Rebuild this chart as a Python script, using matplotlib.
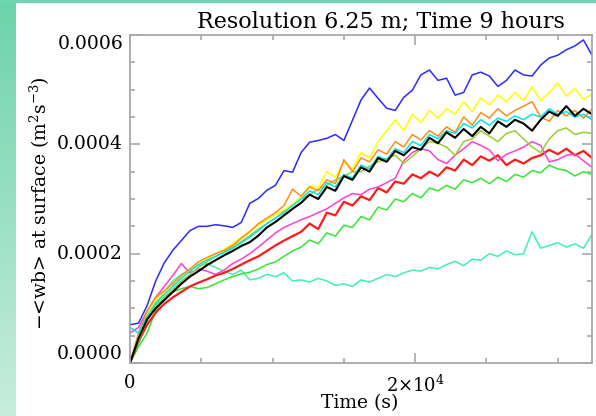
import numpy as np
import matplotlib
matplotlib.use("Agg")
import matplotlib.pyplot as plt
from matplotlib.ticker import MultipleLocator

plt.rcParams['font.family'] = ['DejaVu Serif']
plt.rcParams['mathtext.fontset'] = 'dejavuserif'

# time samples (s), every 600 s over 9 hours
time_s = np.arange(0, 32401, 600)
UNIT = 1e-4  # values below in units of 1e-4 m^2 s^-3

wb_blue = [0.70, 0.73, 1.05, 1.50, 1.83, 2.06, 2.24, 2.42, 2.50, 2.50, 2.53, 2.51, 2.48, 2.57,
           2.92, 3.01, 3.16, 3.25, 3.52, 3.49, 3.85, 4.04, 4.07, 4.11, 4.18, 4.07, 4.44, 4.81,
           5.03, 4.84, 4.66, 4.62, 4.86, 4.99, 5.27, 5.36, 5.17, 5.21, 4.90, 4.95, 5.27, 5.32,
           5.25, 5.06, 5.17, 5.36, 5.27, 5.25, 5.45, 5.58, 5.63, 5.73, 5.80, 5.91, 5.63]
wb_yellow = [0.0, 0.50, 0.90, 1.15, 1.30, 1.45, 1.60, 1.70, 1.80, 1.90, 2.00, 2.08, 2.18, 2.30,
             2.42, 2.52, 2.62, 2.72, 2.80, 2.90, 3.05, 3.25, 3.20, 3.50, 3.40, 3.68, 3.55, 3.85,
             3.75, 4.05, 4.25, 4.45, 4.25, 4.55, 4.40, 4.62, 4.48, 4.65, 4.55, 4.78, 4.60, 4.85,
             4.72, 4.90, 4.78, 4.95, 4.80, 5.05, 4.80, 4.95, 5.12, 4.88, 5.02, 4.82, 4.92]
wb_orange = [0.0, 0.55, 0.95, 1.20, 1.32, 1.45, 1.60, 1.72, 1.85, 1.93, 2.00, 2.06, 2.15, 2.28,
             2.40, 2.55, 2.65, 2.75, 2.88, 3.18, 3.05, 3.22, 3.15, 3.35, 3.28, 3.72, 3.50, 3.75,
             3.68, 3.90, 3.82, 4.05, 3.95, 4.18, 4.08, 4.25, 4.15, 4.32, 4.22, 4.50, 4.35, 4.58,
             4.48, 4.65, 4.52, 4.62, 4.70, 4.78, 4.50, 4.42, 4.62, 4.52, 4.62, 4.48, 4.65]
wb_cyan = [0.65, 0.55, 0.85, 1.10, 1.25, 1.40, 1.55, 1.68, 1.80, 1.88, 1.95, 2.02, 2.10, 2.20,
           2.30, 2.42, 2.55, 2.65, 2.75, 2.88, 3.00, 3.15, 3.08, 3.30, 3.22, 3.45, 3.38, 3.62,
           3.55, 3.78, 3.72, 3.92, 3.85, 4.05, 3.98, 4.18, 4.10, 4.25, 4.20, 4.38, 4.30, 4.45,
           4.35, 4.48, 4.42, 4.52, 4.45, 4.55, 4.50, 4.65, 4.55, 4.60, 4.50, 4.55, 4.45]
wb_black = [0.0, 0.45, 0.80, 1.00, 1.15, 1.30, 1.45, 1.58, 1.68, 1.79, 1.88, 1.97, 2.05, 2.14,
            2.21, 2.33, 2.48, 2.58, 2.70, 2.82, 2.93, 3.08, 3.00, 3.22, 3.15, 3.42, 3.35, 3.58,
            3.50, 3.75, 3.68, 3.88, 3.80, 3.95, 3.90, 4.12, 4.02, 4.22, 4.12, 4.28, 4.15, 4.32,
            4.20, 4.42, 4.32, 4.45, 4.38, 4.25, 4.45, 4.60, 4.52, 4.70, 4.52, 4.65, 4.55]
wb_ygreen = [0.0, 0.40, 0.80, 1.05, 1.20, 1.35, 1.50, 1.62, 1.75, 1.85, 1.95, 2.03, 2.12, 2.22,
             2.33, 2.45, 2.55, 2.65, 2.78, 2.90, 3.00, 3.08, 3.18, 3.25, 3.35, 3.42, 3.50, 3.50,
             3.60, 3.68, 3.74, 3.80, 3.65, 3.78, 3.92, 4.05, 4.02, 3.95, 3.80, 4.05, 4.10, 4.25,
             4.15, 4.05, 4.20, 4.25, 4.10, 3.95, 3.85, 4.10, 4.25, 4.30, 4.18, 4.22, 4.20]
wb_magenta = [0.55, 0.65, 0.95, 1.20, 1.40, 1.60, 1.82, 1.65, 1.72, 1.68, 1.62, 1.70, 1.82, 1.90,
              2.00, 2.12, 2.25, 2.38, 2.48, 2.55, 2.62, 2.68, 2.75, 2.82, 2.92, 3.02, 3.10, 3.08,
              3.18, 3.22, 3.30, 3.38, 3.70, 3.85, 3.92, 3.88, 3.72, 3.65, 3.80, 3.92, 4.05, 3.98,
              3.90, 3.70, 3.82, 3.88, 3.95, 4.05, 3.98, 3.68, 3.72, 3.80, 3.82, 3.70, 3.58]
wb_red = [0.0, 0.40, 0.70, 0.92, 1.08, 1.20, 1.30, 1.40, 1.47, 1.53, 1.60, 1.65, 1.72, 1.80,
          1.88, 1.95, 2.05, 2.15, 2.24, 2.32, 2.40, 2.55, 2.45, 2.75, 2.70, 2.95, 2.88, 3.05,
          2.98, 3.20, 3.12, 3.32, 3.28, 3.45, 3.38, 3.50, 3.42, 3.58, 3.52, 3.72, 3.62, 3.78,
          3.70, 3.80, 3.62, 3.72, 3.65, 3.75, 3.80, 3.90, 3.82, 3.92, 3.80, 3.88, 3.75]
wb_green = [0.0, 0.30, 0.55, 0.95, 1.20, 1.30, 1.36, 1.40, 1.36, 1.38, 1.45, 1.52, 1.58, 1.63,
            1.66, 1.72, 1.80, 1.85, 1.95, 2.05, 2.12, 2.25, 2.18, 2.38, 2.32, 2.52, 2.48, 2.68,
            2.62, 2.85, 2.80, 3.00, 2.95, 3.10, 3.02, 3.20, 3.15, 3.25, 3.18, 3.35, 3.30, 3.38,
            3.28, 3.40, 3.32, 3.45, 3.40, 3.52, 3.48, 3.62, 3.55, 3.52, 3.42, 3.50, 3.45]
wb_aqua = [0.0, 0.35, 0.75, 1.05, 1.30, 1.50, 1.62, 1.70, 1.78, 1.82, 1.75, 1.68, 1.62, 1.70,
           1.52, 1.55, 1.62, 1.58, 1.65, 1.50, 1.52, 1.48, 1.55, 1.50, 1.42, 1.45, 1.40, 1.52,
           1.48, 1.55, 1.62, 1.58, 1.65, 1.70, 1.68, 1.75, 1.72, 1.80, 1.86, 1.78, 1.90, 1.88,
           2.00, 1.95, 2.05, 1.98, 2.00, 2.40, 2.10, 2.15, 2.20, 2.12, 2.18, 2.10, 2.35]

series = [
    (wb_aqua, '#3ff0b4', 1.1),
    (wb_green, '#33e633', 1.1),
    (wb_red, '#ff1a1a', 1.6),
    (wb_magenta, '#ff3fcf', 1.1),
    (wb_ygreen, '#9acd32', 1.1),
    (wb_yellow, '#ffff00', 1.1),
    (wb_orange, '#ff8c1a', 1.1),
    (wb_cyan, '#00e5e5', 1.1),
    (wb_black, '#000000', 1.5),
    (wb_blue, '#2a2aff', 1.1),
]

fig = plt.figure(figsize=(5.96, 4.16), dpi=100)
fig.patch.set_facecolor('white')

# decorative green strip at left and line at top
strip = fig.add_axes([0, 0, 16/596, 1])
grad = np.linspace(0, 1, 256).reshape(-1, 1)
c_top = np.array([0x6c, 0xd3, 0xab]) / 255
c_bot = np.array([0xc8, 0xed, 0xdc]) / 255
img = c_top[None, None, :] * (1 - grad[:, :, None]) + c_bot[None, None, :] * grad[:, :, None]
strip.imshow(img, aspect='auto', extent=[0, 1, 0, 1])
strip.axis('off')
fig.add_artist(plt.Rectangle((0, 1 - 2.5/416), 1, 2.5/416, transform=fig.transFigure,
                             facecolor='#6dd5b0', edgecolor='none'))

ax = fig.add_axes([130/596, (416-363)/416, (592-130)/596, (363-35)/416])
for vals, col, lw in series:
    ax.plot(time_s, np.array(vals) * UNIT, color=col, lw=lw)

ax.set_xlim(0, 32400)
ax.set_ylim(0, 0.0006)
ax.set_xticks([0, 20000], ['0', r'2$\times$10$^4$'], fontsize=13, va='top')
ax.xaxis.set_minor_locator(MultipleLocator(5000))
ax.set_yticks([0, 0.0002, 0.0004, 0.0006], ['0.0000', '0.0002', '0.0004', '0.0006'],
              fontsize=13.5, va='center')
ylabs = ax.get_yticklabels()
ylabs[0].set_verticalalignment('bottom')
ylabs[-1].set_verticalalignment('top')
ax.yaxis.set_minor_locator(MultipleLocator(0.00005))
ax.tick_params(which='both', direction='in', top=True, right=True, color='#a8a8a8', width=1.2)
ax.tick_params(which='major', length=7)
ax.tick_params(which='minor', length=3.5)
ax.tick_params(axis='x', pad=8)
ax.tick_params(axis='y', pad=5)
for s in ax.spines.values():
    s.set_color('#a8a8a8')
    s.set_linewidth(1.3)

fig.text(381/596, (416-28)/416, 'Resolution 6.25 m; Time 9 hours', ha='center', va='baseline',
         fontsize=16)
fig.text(360/596, (416-403)/416, 'Time (s)', ha='center', va='center', fontsize=13.5)
fig.text(40/596, (416-203)/416, r'$-$<wb> at surface (m$^2$s$^{-3}$)', rotation=90,
         ha='center', va='center', fontsize=13.5)

fig.savefig('out.png', dpi=100)
